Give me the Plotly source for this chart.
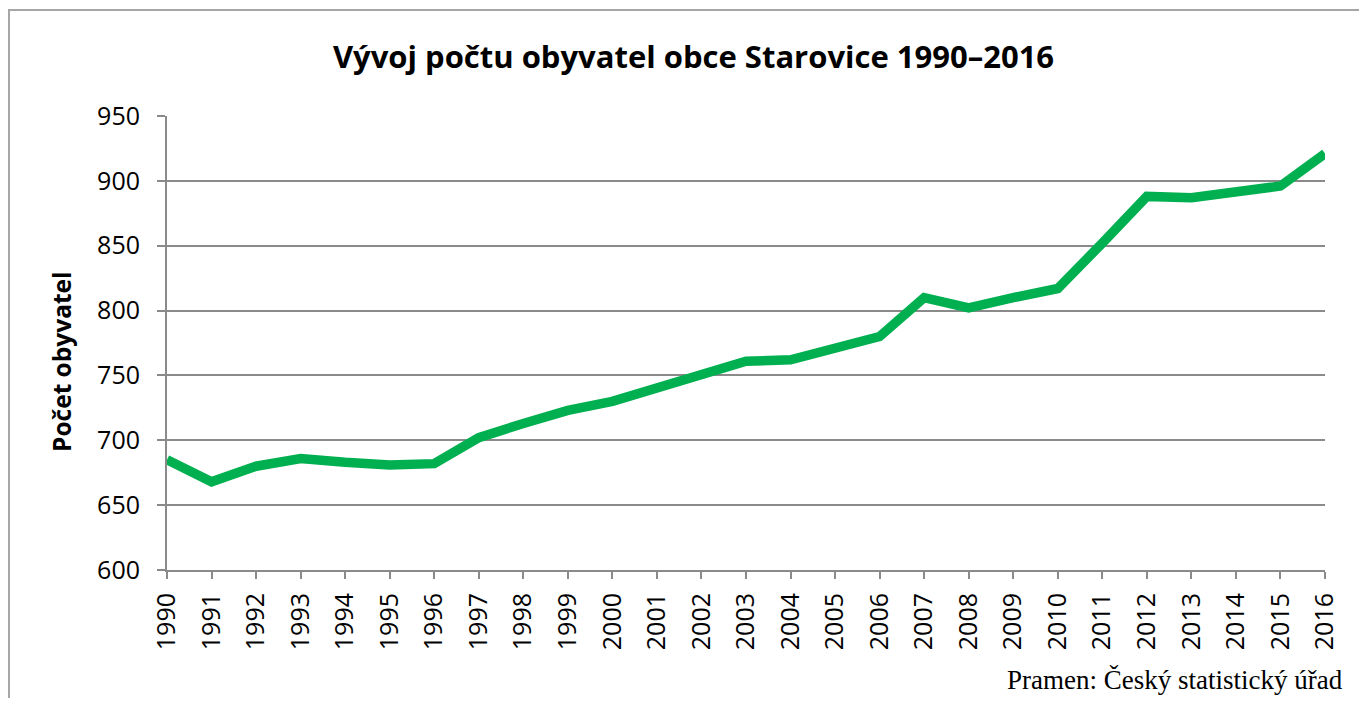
import plotly.graph_objects as go

years = list(range(1990, 2017))
population = [685, 668, 680, 686, 683, 681, 682, 702, 713, 723, 730, 740, 750, 761, 762,
              771, 780, 810, 802, 810, 817, 852, 888, 887, 891, 896, 921]
title_text = "Vývoj počtu obyvatel obce Starovice 1990–2016"
y_title = "Počet obyvatel"
source_text = "Pramen: Český statistický úřad"
y_ticks = [600, 650, 700, 750, 800, 850, 900, 950]

# page body has an 8px margin, so figure coords = screen coords - 8
OFF = 8
W, H = 1367 - 2 * OFF, 706 - 2 * OFF
L = 167 - OFF
T = 116 - OFF
R = W - (1325 - OFF)
B = H - (570 - OFF)
pw, ph = W - L - R, H - T - B


def px(sx):
    return (sx - OFF - L) / pw


def py(sy):
    return (H - B - (sy - OFF)) / ph


fig = go.Figure()
fig.add_trace(go.Scatter(x=years, y=population, mode="lines",
                         line=dict(color="#00B050", width=9.5), showlegend=False,
                         hoverinfo="x+y"))

font_fam = "Open Sans, sans-serif"
grid_col = "#8a8a8a"

fig.update_layout(
    width=W, height=H,
    margin=dict(l=L, r=R, t=T, b=B),
    paper_bgcolor="white", plot_bgcolor="white",
    title=dict(text="<b>" + title_text + "</b>", x=(693.5 - OFF) / W, xanchor="center",
               y=1 - (57 - OFF) / H, yanchor="middle",
               font=dict(family=font_fam, size=31, color="#000000")),
    xaxis=dict(range=[1990, 2016], tickmode="array", tickvals=years,
               ticktext=[str(y) for y in years], tickangle=-90,
               showgrid=False, showline=True, linecolor=grid_col, linewidth=2,
               ticks="outside", ticklen=7, tickwidth=2, tickcolor=grid_col,
               ticklabelstandoff=4,
               tickfont=dict(family=font_fam, size=25, color="#000000"),
               zeroline=False, fixedrange=True),
    yaxis=dict(range=[600, 950], tickmode="array", tickvals=y_ticks,
               showgrid=True, gridcolor=grid_col, gridwidth=2,
               showline=True, linecolor=grid_col, linewidth=2,
               ticks="outside", ticklen=8, tickwidth=2, tickcolor=grid_col,
               ticklabelstandoff=12,
               tickfont=dict(family=font_fam, size=25, color="#000000"),
               zeroline=False, fixedrange=True),
    annotations=[
        dict(text="<b>" + y_title + "</b>", textangle=-90, xref="paper", yref="paper",
             x=px(61), y=py(362), xanchor="center", yanchor="middle", showarrow=False,
             font=dict(family=font_fam, size=24.5, color="#000000")),
        dict(text=source_text, xref="paper", yref="paper", x=px(1344), y=py(680),
             xanchor="right", yanchor="middle", showarrow=False, borderpad=0,
             font=dict(family="Liberation Serif, serif", size=27, color="#000000")),
    ],
    shapes=[
        dict(type="rect", xref="paper", yref="paper", x0=px(9), x1=px(1380), y0=py(720), y1=py(10),
             line=dict(color="#a6a6a6", width=2), fillcolor="rgba(0,0,0,0)", layer="below"),
    ],
)

fig.write_html("out.html")
